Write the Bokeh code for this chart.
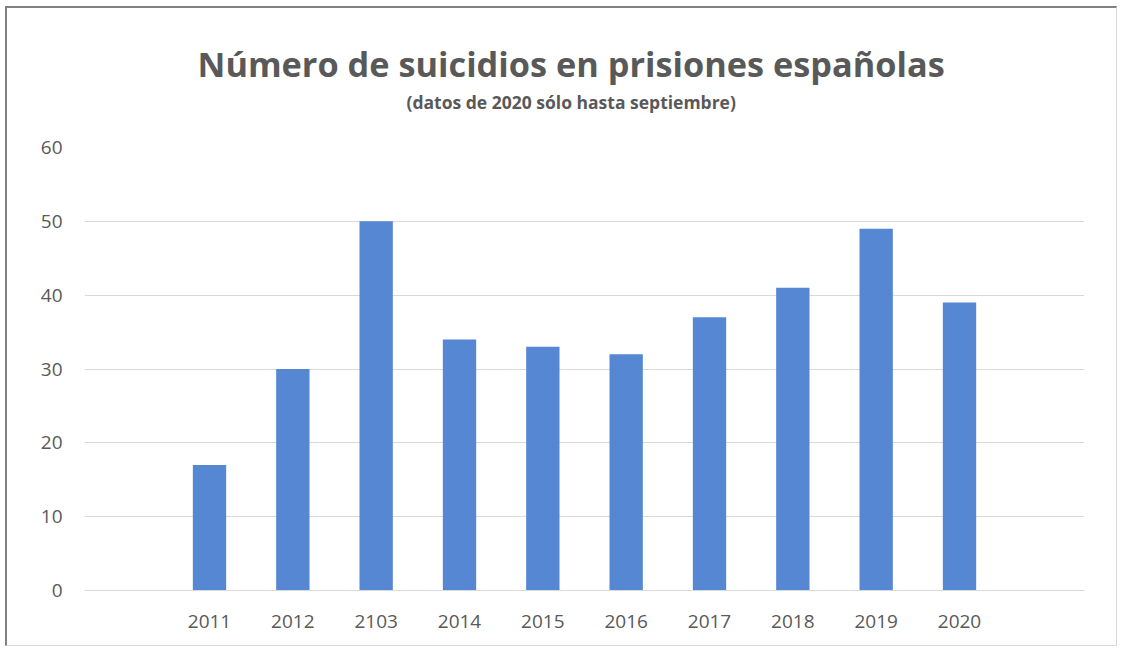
from bokeh.plotting import figure
from bokeh.models import FactorRange, Title, ColumnDataSource
from bokeh.embed import file_html
from bokeh.resources import INLINE

years = ["2011", "2012", "2103", "2014", "2015", "2016", "2017", "2018", "2019", "2020"]
suicides = [17, 30, 50, 34, 33, 32, 37, 41, 49, 39]

title_text = "Número de suicidios en prisiones españolas"
subtitle_text = "(datos de 2020 sólo hasta septiembre)"

src = ColumnDataSource(dict(year=years, n=suicides))

x_range = FactorRange(factors=years, range_padding=1.0, range_padding_units="absolute")

p = figure(x_range=x_range, y_range=(0, 60), width=1112, height=640, title=None,
           output_backend="svg", toolbar_location=None,
           min_border_left=77, min_border_right=35, min_border_top=139, min_border_bottom=58)

p.vbar(x="year", top="n", width=0.4, source=src, fill_color="#5587d2", line_color=None)

p.outline_line_color = None
p.xgrid.grid_line_color = None
p.ygrid.grid_line_color = "#d9d9d9"
p.ygrid.grid_line_width = 1
p.yaxis.ticker = [0, 10, 20, 30, 40, 50, 60]

for ax in (p.xaxis[0], p.yaxis[0]):
    ax.major_tick_line_color = None
    ax.minor_tick_line_color = None
    ax.major_tick_out = 0
    ax.major_tick_in = 0
    ax.minor_tick_out = 0
    ax.major_label_text_font = "Open Sans"
    ax.major_label_text_font_size = "19px"
    ax.major_label_text_color = "#595959"
p.yaxis.axis_line_color = None
p.yaxis.major_label_standoff = 22
p.xaxis.axis_line_color = "#d9d9d9"
p.xaxis.major_label_standoff = 24

sub = Title(text=subtitle_text, align="left", text_font="Open Sans", text_font_style="bold",
            text_font_size="17.5px", text_color="#595959", standoff=67, offset=322)
main = Title(text=title_text, align="left", text_font="Open Sans", text_font_style="bold",
             text_font_size="34.3px", text_color="#595959", standoff=-64, offset=113)
p.add_layout(sub, "above")
p.add_layout(main, "above")

p.styles = {"margin": "6px 0 0 5px",
            "border-top": "2px solid #808080", "border-left": "2px solid #808080",
            "border-right": "1px solid #d9d9d9", "border-bottom": "1px solid #d9d9d9"}

open("out.html", "w").write(file_html(p, INLINE))
